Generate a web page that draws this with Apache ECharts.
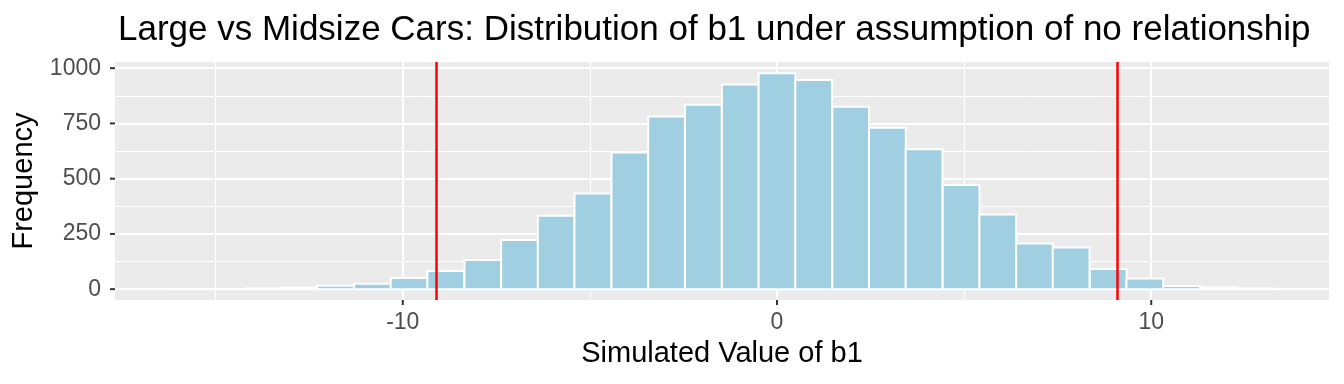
<!DOCTYPE html>
<html>
<head>
<meta charset="utf-8">
<script src="https://cdn.jsdelivr.net/npm/echarts@6/dist/echarts.min.js"></script>
<style>
html,body{margin:0;padding:0;background:#fff;}
#chart{width:1344px;height:384px;}
</style>
</head>
<body>
<div id="chart"></div>
<script>
// Bin centres of the histogram (Simulated value of b1)
var binCenters = [-15.73, -14.75, -13.76, -12.78, -11.80, -10.81, -9.83, -8.85, -7.86, -6.88,
                  -5.90, -4.92, -3.93, -2.95, -1.97, -0.98, 0, 0.98, 1.97, 2.95,
                  3.93, 4.92, 5.90, 6.88, 7.86, 8.85, 9.83, 10.81, 11.80, 12.78];
var binWidth = 0.983;
// Frequency per bin
var counts = [1, 1, 3, 6, 16, 25, 50, 82, 132, 223,
              332, 433, 618, 781, 834, 926, 977, 947, 826, 731,
              633, 471, 338, 207, 189, 91, 48, 14, 8, 3];
// Observed b1 reference lines
var refLines = [-9.1, 9.1];
var xTicks = [-10, 0, 10];
var xMinor = [-15, -5, 5];
var yTicks = [0, 250, 500, 750, 1000];
var yMinor = [125, 375, 625, 875];
var xRange = [-17.69, 14.75];
var yRange = [-49, 1028];

var font = "'Liberation Sans', Arial, sans-serif";
var chart = echarts.init(document.getElementById('chart'));

var data = binCenters.map(function (c, i) { return [c, counts[i]]; });

var gridLines = [];
yTicks.forEach(function (v) { gridLines.push({ yAxis: v, lineStyle: { width: 2 } }); });
yMinor.forEach(function (v) { gridLines.push({ yAxis: v, lineStyle: { width: 1 } }); });
xTicks.forEach(function (v) { gridLines.push({ xAxis: v, lineStyle: { width: 2 } }); });
xMinor.forEach(function (v) { gridLines.push({ xAxis: v, lineStyle: { width: 1 } }); });

var option = {
  animation: false,
  backgroundColor: '#ffffff',
  title: {
    text: 'Large vs Midsize Cars: Distribution of b1 under assumption of no relationship',
    left: 113,
    top: 8,
    textStyle: { fontFamily: font, fontSize: 35, fontWeight: 'normal', color: '#000' }
  },
  grid: {
    left: 115, right: 15, top: 62, bottom: 84,
    show: true, backgroundColor: '#EBEBEB', borderWidth: 0
  },
  xAxis: {
    type: 'value',
    min: xRange[0], max: xRange[1],
    name: 'Simulated Value of b1',
    nameLocation: 'middle',
    nameGap: 39,
    nameTextStyle: { fontFamily: font, fontSize: 29, color: '#000' },
    axisLine: { show: false },
    axisTick: { show: false },
    axisLabel: { customValues: xTicks, fontFamily: font, fontSize: 23, color: '#4D4D4D', margin: 11,
                 formatter: function (v) { return String(v); } },
    splitLine: { show: false }
  },
  yAxis: {
    type: 'value',
    min: yRange[0], max: yRange[1],
    name: 'Frequency',
    nameLocation: 'middle',
    nameGap: 77,
    nameTextStyle: { fontFamily: font, fontSize: 29, color: '#000' },
    axisLine: { show: false },
    axisTick: { show: false },
    axisLabel: { customValues: yTicks, fontFamily: font, fontSize: 23, color: '#4D4D4D', margin: 14,
                 formatter: function (v) { return String(v); } },
    splitLine: { show: false }
  },
  series: [
    {
      type: 'line',
      data: [],
      silent: true,
      markLine: {
        z: 1,
        silent: true,
        symbol: ['none', 'none'],
        label: { show: false },
        lineStyle: { color: '#ffffff', type: 'solid' },
        data: gridLines
      }
    },
    {
      type: 'custom',
      z: 3,
      data: data,
      renderItem: function (params, api) {
        var c = api.value(0), v = api.value(1);
        var p0 = api.coord([c - binWidth / 2, v]);
        var p1 = api.coord([c + binWidth / 2, 0]);
        return {
          type: 'rect',
          shape: { x: p0[0], y: p0[1], width: p1[0] - p0[0], height: p1[1] - p0[1] },
          style: { fill: '#9FCFE0', stroke: '#ffffff', lineWidth: 2 }
        };
      },
      markLine: {
        z: 10,
        silent: true,
        symbol: ['none', 'none'],
        label: { show: false },
        lineStyle: { color: '#FF0000', width: 2.5, type: 'solid' },
        data: refLines.map(function (v) { return { xAxis: v }; })
      }
    }
  ]
};
chart.setOption(option);

// Axis tick marks, placed through the axes' own scales
var tickLen = 5;
var panelLeft = chart.convertToPixel({ xAxisIndex: 0 }, xRange[0]);
var panelBottom = chart.convertToPixel({ yAxisIndex: 0 }, yRange[0]);
var tickEls = [];
xTicks.forEach(function (v) {
  var px = chart.convertToPixel({ xAxisIndex: 0 }, v);
  tickEls.push({ type: 'line', silent: true, z: 20,
    shape: { x1: px, y1: panelBottom, x2: px, y2: panelBottom + tickLen },
    style: { stroke: '#333333', lineWidth: 2 } });
});
yTicks.forEach(function (v) {
  var py = chart.convertToPixel({ yAxisIndex: 0 }, v);
  tickEls.push({ type: 'line', silent: true, z: 20,
    shape: { x1: panelLeft - tickLen, y1: py, x2: panelLeft, y2: py },
    style: { stroke: '#333333', lineWidth: 2 } });
});
chart.setOption({ graphic: tickEls });
</script>
</body>
</html>
